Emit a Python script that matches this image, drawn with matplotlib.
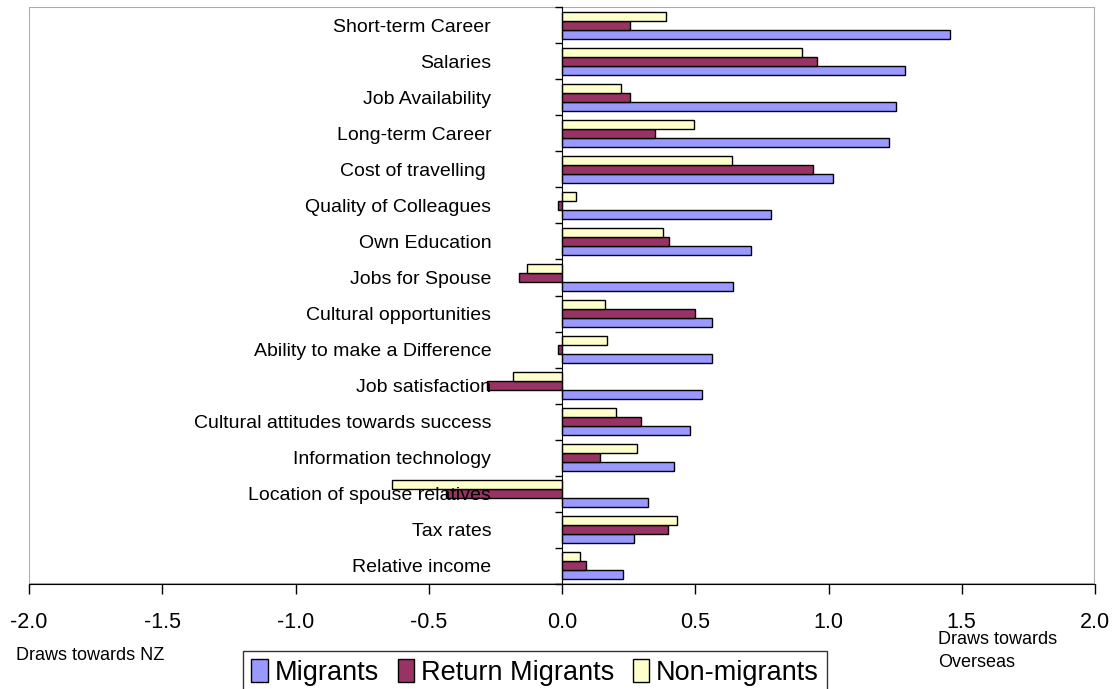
import matplotlib
matplotlib.use("Agg")
import matplotlib.pyplot as plt
import numpy as np
from matplotlib.patches import Rectangle

plt.rcParams["font.family"] = ["Liberation Sans", "DejaVu Sans"]

# categories, listed top to bottom
categories = [
    "Short-term Career", "Salaries", "Job Availability", "Long-term Career",
    "Cost of travelling ", "Quality of Colleagues", "Own Education",
    "Jobs for Spouse", "Cultural opportunities", "Ability to make a Difference",
    "Job satisfaction", "Cultural attitudes towards success",
    "Information technology", "Location of spouse relatives", "Tax rates",
    "Relative income",
]
migrants = [1.456, 1.286, 1.255, 1.227, 1.017, 0.786, 0.709, 0.640,
            0.564, 0.564, 0.527, 0.479, 0.422, 0.321, 0.269, 0.230]
return_migrants = [0.255, 0.958, 0.257, 0.350, 0.943, -0.016, 0.401, -0.161,
                   0.499, -0.016, -0.282, 0.297, 0.142, -0.435, 0.396, 0.090]
non_migrants = [0.392, 0.902, 0.221, 0.495, 0.639, 0.051, 0.379, -0.131,
                0.160, 0.170, -0.182, 0.204, 0.281, -0.639, 0.430, 0.067]
x_ticks = [-2.0, -1.5, -1.0, -0.5, 0.0, 0.5, 1.0, 1.5, 2.0]

n = len(categories)
pos = np.arange(n)[::-1]
h = 0.25

fig = plt.figure(figsize=(11.15, 6.89), dpi=100)
ax = fig.add_axes([29 / 1115, 1 - 584 / 689, 1066 / 1115, 577 / 689])

ax.barh(pos - h, migrants, height=h, color="#9999FF", edgecolor="black",
        linewidth=1, label="Migrants")
ax.barh(pos, return_migrants, height=h, color="#993366", edgecolor="black",
        linewidth=1, label="Return Migrants")
ax.barh(pos + h, non_migrants, height=h, color="#FFFFCC", edgecolor="black",
        linewidth=1, label="Non-migrants")

ax.set_xlim(-2, 2)
ax.set_ylim(-0.5, n - 0.5)

# plot area frame (grey), axes in black
ax.add_patch(Rectangle((0, 0), 1, 1, transform=ax.transAxes, fill=False,
                       edgecolor="#aaaaaa", linewidth=1.5, zorder=0))
for s in ["top", "right"]:
    ax.spines[s].set_visible(False)
ax.spines["left"].set_position(("data", 0))
ax.spines["left"].set_color("black")
ax.spines["bottom"].set_color("black")

# y: tick marks at category boundaries, labels at centres
ax.set_yticks(np.arange(n + 1) - 0.5)
ax.set_yticklabels([])
ax.tick_params(axis="y", which="major", length=5, direction="out", width=1)
ax.set_yticks(pos, minor=True)
ax.set_yticklabels(categories, minor=True, fontsize=14)
ax.tick_params(axis="y", which="minor", length=0, pad=51)

ax.set_xticks(x_ticks)
ax.set_xticklabels([f"{v:.1f}" for v in x_ticks], fontsize=15.5)
ax.tick_params(axis="x", length=7, direction="out", width=1, pad=13)

fig.text(16 / 1115, 1 - 655 / 689, "Draws towards NZ", fontsize=13,
         va="center", ha="left")
fig.text(938 / 1115, 1 - 651 / 689, "Draws towards\nOverseas", fontsize=13,
         va="center", ha="left", linespacing=1.5)

leg = fig.legend(loc="upper center", bbox_to_anchor=(535 / 1115, 1 - 651 / 689),
                 ncol=3, fontsize=19.5, frameon=True, fancybox=False,
                 edgecolor="black", handlelength=0.6, handleheight=0.9,
                 handletextpad=0.25, columnspacing=0.7, borderpad=0.3,
                 borderaxespad=0)
leg.get_frame().set_linewidth(1)

fig.savefig("out.png", dpi=100)
